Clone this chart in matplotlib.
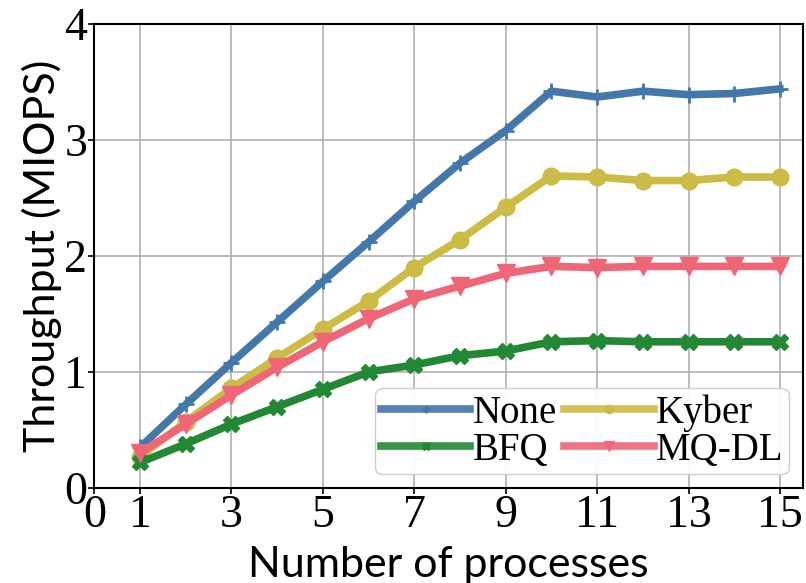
import matplotlib
matplotlib.use("Agg")
import matplotlib.pyplot as plt

# data
procs = list(range(1, 16))
none_tp = [0.35, 0.72, 1.08, 1.43, 1.78, 2.12, 2.47, 2.80, 3.08, 3.42, 3.37, 3.42, 3.39, 3.40, 3.44]
kyber_tp = [0.27, 0.57, 0.86, 1.12, 1.37, 1.61, 1.90, 2.14, 2.42, 2.69, 2.68, 2.65, 2.65, 2.68, 2.68]
bfq_tp = [0.22, 0.38, 0.55, 0.70, 0.85, 1.00, 1.06, 1.14, 1.18, 1.26, 1.27, 1.26, 1.26, 1.26, 1.26]
mqdl_tp = [0.30, 0.55, 0.80, 1.04, 1.26, 1.46, 1.63, 1.74, 1.85, 1.91, 1.90, 1.91, 1.91, 1.91, 1.91]
xticks = [0, 1, 3, 5, 7, 9, 11, 13, 15]
yticks = [0, 1, 2, 3, 4]

label_font = "Lato"
serif = "Liberation Serif"

fig = plt.figure(figsize=(8.06, 5.83), dpi=100)
ax = fig.add_axes([0.117, 0.163, 0.879, 0.796])

lw = 5.5
l_none, = ax.plot(procs, none_tp, color="#4477AA", lw=lw, marker="+", ms=12, mew=2, label="None")
l_kyber, = ax.plot(procs, kyber_tp, color="#CCBB44", lw=lw, marker="o", ms=12, label="Kyber")
l_bfq, = ax.plot(procs, bfq_tp, color="#228833", lw=lw, marker="X", ms=12, label="BFQ")
l_mqdl, = ax.plot(procs, mqdl_tp, color="#EE6677", lw=lw, marker="v", ms=13, label="MQ-DL")

ax.set_xlim(0, 15.5)
ax.set_ylim(0, 4)
ax.set_xticks(xticks)
ax.set_yticks(yticks)
ax.grid(True, color="#b0b0b0", lw=1.2)
ax.set_axisbelow(True)
for lab in ax.get_xticklabels() + ax.get_yticklabels():
    lab.set_fontfamily(serif)
    lab.set_fontsize(33)
ax.tick_params(axis="both", pad=1, length=4, width=1.2)
for sp in ax.spines.values():
    sp.set_linewidth(1.5)

ax.set_xlabel("Number of processes", fontfamily=label_font, fontsize=31, labelpad=6)
ax.set_ylabel("Throughput (MIOPS)", fontfamily=label_font, fontsize=31, labelpad=2)

# column-wise fill -> None/Kyber on top row, BFQ/MQ-DL below
leg = ax.legend([l_none, l_bfq, l_kyber, l_mqdl], ["None", "BFQ", "Kyber", "MQ-DL"],
                loc="lower right", ncol=2, prop={"family": serif, "size": 28},
                handlelength=2.3, handletextpad=0.05, columnspacing=0.2,
                labelspacing=0.0, borderpad=0.15, borderaxespad=0.35, markerscale=0.5,
                framealpha=0.95)
for h in leg.get_lines():
    h.set_alpha(0.9)

fig.savefig("out.png", dpi=100)
